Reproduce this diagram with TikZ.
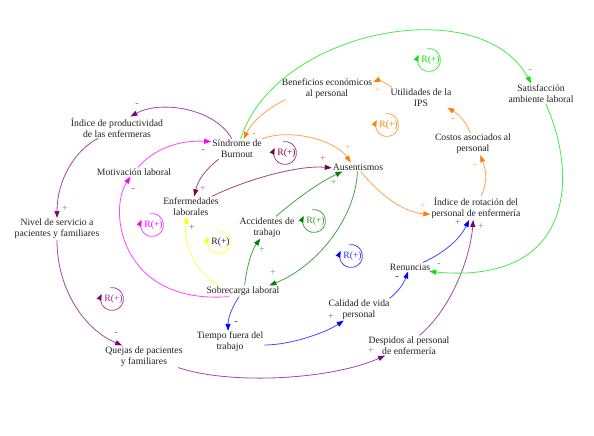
\documentclass[tikz,border=0pt]{standalone}
\usepackage{fontspec}
\setmainfont{Liberation Serif}
\usetikzlibrary{arrows.meta}
\definecolor{cpur}{HTML}{800080}
\definecolor{cgrn}{HTML}{00E600}
\definecolor{corg}{HTML}{FF8000}
\definecolor{cmar}{HTML}{800040}
\definecolor{cdgr}{HTML}{008000}
\definecolor{cyel}{HTML}{FFFF00}
\definecolor{cmag}{HTML}{FF00FF}
\definecolor{cblu}{HTML}{0000FF}
\definecolor{ctxt}{HTML}{222222}
\newcommand\rloopmark[5]{%
  \node[rl=#4] (#1) at (#2+1.5,#3) {R(+)};
  \draw[ra=#5] (#2,#3) ++(-100:11.5) arc[start angle=-100,end angle=205,radius=11.5];}
\begin{document}
\begin{tikzpicture}[x=1pt,y=-1pt,
  var/.style={align=center,inner sep=1pt,font=\fontsize{9.7}{11}\selectfont,text=ctxt},
  lk/.style={line width=0.8pt,draw=#1!72!white,-{Triangle[length=7pt,width=5pt,color=#1]}},
  sg/.style={font=\fontsize{10}{10}\selectfont,text=#1,inner sep=0pt},
  rl/.style={font=\fontsize{9.7}{11}\selectfont,text=#1,inner sep=0pt},
  ra/.style={line width=0.8pt,draw=#1!72!white,-{Triangle[length=6pt,width=5pt,color=#1]}}]
\useasboundingbox[fill=white] (0,0) rectangle (594,436);
% variables
\node[var] (indp) at (117,127.5) {Índice de productividad\\de las enfermeras};
\node[var] (sind) at (237,149) {Síndrome de\\Burnout};
\node[var] (moti) at (134,172) {Motivación laboral};
\node[var] (enfe) at (191,206.5) {Enfermedades\\laborales};
\node[var] (nive) at (57,229) {Nivel de servicio a\\pacientes y familiares};
\node[var] (acci) at (267,227.5) {Accidentes de\\trabajo};
\node[var] (sobr) at (243,291) {Sobrecarga laboral};
\node[var] (tiem) at (230,342) {Tiempo fuera del\\trabajo};
\node[var] (quej) at (144,356.5) {Quejas de pacientes\\y familiares};
\node[var] (bene) at (327,88.5) {Beneficios económicos\\al personal};
\node[var] (util) at (421,97.5) {Utilidades de la\\IPS};
\node[var] (sati) at (541,93.5) {Satisfacción\\ambiente laboral};
\node[var] (cost) at (473,144) {Costos asociados al\\personal};
\node[var] (ause) at (358,167) {Ausentismos};
\node[var] (rota) at (476,208) {Índice de rotación del\\personal de enfermería};
\node[var] (renu) at (410,267) {Renuncias};
\node[var] (cali) at (359,309.5) {Calidad de vida\\personal};
\node[var] (desp) at (409,345.5) {Despidos al personal\\de enfermería};
% links
\draw[lk=cpur] (sind.117) .. controls (215,108) and (160,100) .. (indp.39);
\draw[lk=cpur] (indp.210) .. controls (75,150) and (57,180) .. (nive.north);
\draw[lk=cpur] (nive.south) .. controls (57,290) and (85,330) .. (quej.153);
\draw[lk=cpur] (quej.-18) .. controls (230,385) and (330,380) .. (desp.203);
\draw[lk=cpur] (desp.44) .. controls (450,310) and (470,260) .. (rota.-103);
\draw[lk=cblu] (renu.19) .. controls (450,250) and (462,235) .. (rota.-120);
\draw[lk=cgrn] (sati.-65) .. controls (578,175) and (575,285) .. (renu.-13);
\draw[lk=cgrn] (sind.70) .. controls (275,30) and (480,-10) .. (sati.134);
\draw[lk=corg] (bene.195) .. controls (265,110) and (252,122) .. (sind.57);
\draw[lk=corg] (util.161) .. controls (385,82) and (378,80) .. (bene.8);
\draw[lk=corg] (cost.104) .. controls (466,122) and (460,115) .. (util.-21);
\draw[lk=corg] (rota.67) .. controls (487,185) and (487,172) .. (cost.-57);
\draw[lk=corg] (ause.-60) .. controls (385,200) and (405,212) .. (rota.188);
\draw[lk=corg] (sind.22) .. controls (290,128) and (335,140) .. (ause.148);
\draw[lk=cmar] (sind.209) .. controls (205,170) and (198,180) .. (enfe.72);
\draw[lk=cmar] (enfe.26) .. controls (250,178) and (300,165) .. (ause.182);
\draw[lk=cdgr] (acci.51) .. controls (295,200) and (318,183) .. (ause.196);
\draw[lk=cdgr] (ause.-98) .. controls (356,215) and (320,265) .. (sobr.12);
\draw[lk=cdgr] (sobr.74) .. controls (247,265) and (252,250) .. (acci.-121);
\draw[lk=cyel] (sobr.167) .. controls (195,272) and (183,245) .. (enfe.-112);
\draw[lk=cmag] (sobr.202) .. controls (120,305) and (108,210) .. (moti.-127);
\draw[lk=cmag] (moti.49) .. controls (155,148) and (180,140) .. (sind.164);
\draw[lk=cblu] (sobr.-125) .. controls (232,307) and (228,318) .. (tiem.100);
\draw[lk=cblu] (tiem.-5) .. controls (290,345) and (325,333) .. (cali.216);
\draw[lk=cblu] (cali.20) .. controls (398,292) and (404,283) .. (renu.-113);
% signs
\node[sg=cpur!70!white] (s1) at (137,105) {-};
\node[sg=cpur!60!white] (s2) at (65,209) {+};
\node[sg=cpur!70!white] (s3) at (116,334) {-};
\node[sg=cpur!60!white] (s4) at (371,351) {+};
\node[sg=cpur!60!white] (s5) at (481,227) {+};
\node[sg=black!55] (s6) at (458,223) {+};
\node[sg=cgrn] (s7) at (439,265) {-};
\node[sg=cgrn] (s8) at (530,71) {-};
\node[sg=corg] (s9) at (254,135) {-};
\node[sg=corg!55!white] (s10) at (378,91) {+};
\node[sg=corg] (s11) at (453,120) {-};
\node[sg=corg!55!white] (s12) at (475,166) {+};
\node[sg=corg!55!white] (s13) at (423,206) {+};
\node[sg=corg!55!white] (s14) at (348,148) {+};
\node[sg=cmar!55!white] (s15) at (203,189) {+};
\node[sg=cmar!55!white] (s16) at (323,159) {+};
\node[sg=cdgr!65!white] (s17) at (334,183) {+};
\node[sg=cdgr!65!white] (s18) at (273,273) {+};
\node[sg=cdgr!65!white] (s19) at (262,250) {+};
\node[sg=black!60] (s20) at (192,228) {+};
\node[sg=cmag] (s21) at (133,190) {-};
\node[sg=cmag] (s22) at (203,151) {-};
\node[sg=ctxt] (s23) at (236,323) {-};
\node[sg=black!55] (s24) at (331,317) {+};
\node[sg=ctxt] (s25) at (397,278) {-};
% loops
\rloopmark{r1}{285}{153}{cmar}{cmar}
\rloopmark{r2}{429}{60}{cgrn}{cgrn}
\rloopmark{r3}{387}{125}{corg}{corg}
\rloopmark{r4}{152}{225}{cmag}{cmag}
\rloopmark{r5}{219}{242}{ctxt}{cyel}
\rloopmark{r6}{314}{221}{cdgr!80!white}{cdgr}
\rloopmark{r7}{351}{256}{cblu!80!white}{cblu}
\rloopmark{r8}{112}{299}{cpur!80!white}{cpur}
\end{tikzpicture}
\end{document}
